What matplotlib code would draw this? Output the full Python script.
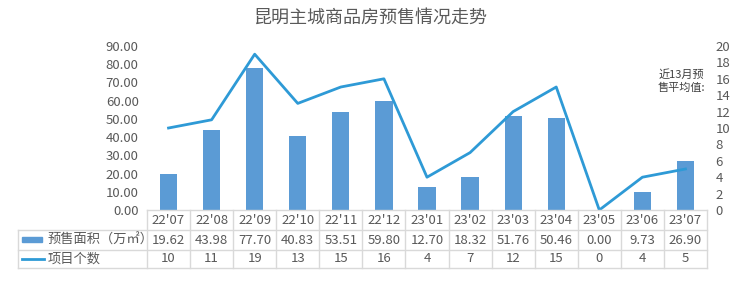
import matplotlib
matplotlib.use("Agg")
import matplotlib.pyplot as plt
from matplotlib.patches import Rectangle
from matplotlib.lines import Line2D

plt.rcParams["font.family"] = ["Noto Sans CJK SC", "DejaVu Sans"]

months = ["22'07", "22'08", "22'09", "22'10", "22'11", "22'12", "23'01",
          "23'02", "23'03", "23'04", "23'05", "23'06", "23'07"]
area = [19.62, 43.98, 77.70, 40.83, 53.51, 59.80, 12.70, 18.32, 51.76, 50.46, 0.00, 9.73, 26.90]
count = [10, 11, 19, 13, 15, 16, 4, 7, 12, 15, 0, 4, 5]

BAR = "#5B9BD5"
LINE = "#2E9AD6"
TXT = "#595959"
GRID = "#D9D9D9"

W, H = 740, 282
fig = plt.figure(figsize=(W / 100, H / 100), dpi=100)


def fx(px):
    return px / W


def fy(py):
    return 1 - py / H


x0, x1 = 147, 707
ytop, ybot = 46, 210
ax = fig.add_axes([fx(x0), fy(ybot), fx(x1 - x0), (ybot - ytop) / H])
ax2 = ax.twinx()

n = len(months)
xs = list(range(n))
ax.bar(xs, area, width=0.4, color=BAR, zorder=2)
ax2.plot(xs, count, color=LINE, lw=2, zorder=3)

ax.set_xlim(-0.5, n - 0.5)
ax.set_ylim(0, 90)
ax2.set_ylim(0, 20)
ax.set_yticks(range(0, 91, 10))
ax.set_yticklabels([f"{v:.2f}" for v in range(0, 91, 10)])
ax2.set_yticks(range(0, 21, 2))
ax.set_xticks([])
for a in (ax, ax2):
    a.tick_params(length=0, labelsize=9.5, colors=TXT)
    for s in a.spines.values():
        s.set_visible(False)
    a.patch.set_visible(False)
ax.tick_params(axis="y", pad=6)
ax2.tick_params(axis="y", pad=6)

fig.text(0.5, fy(18), "昆明主城商品房预售情况走势", ha="center", va="center",
         fontsize=13, color=TXT)
fig.text(fx(681), fy(81), "近13月预\n售平均值:", ha="center", va="center",
         fontsize=8, color="#404040", linespacing=1.25)

# data table below the chart
colw = (x1 - x0) / n
rows = [210, 230, 250, 268]
lx = 18


def hline(y, xa, xb):
    fig.add_artist(Line2D([fx(xa), fx(xb)], [fy(y), fy(y)], color=GRID, lw=1))


def vline(x, ya, yb):
    fig.add_artist(Line2D([fx(x), fx(x)], [fy(ya), fy(yb)], color=GRID, lw=1))


hline(rows[0], x0, x1)
for y in rows[1:]:
    hline(y, lx, x1)
vline(lx, rows[1], rows[3])
for i in range(n + 1):
    vline(x0 + i * colw, rows[0], rows[3])

for i in range(n):
    cx = x0 + (i + 0.5) * colw
    fig.text(fx(cx), fy(220), months[i], ha="center", va="center", fontsize=9.5, color=TXT)
    fig.text(fx(cx), fy(240), f"{area[i]:.2f}", ha="center", va="center", fontsize=9.5, color=TXT)
    fig.text(fx(cx), fy(259), str(count[i]), ha="center", va="center", fontsize=9.5, color=TXT)

fig.add_artist(Rectangle((fx(22), fy(242)), fx(20), 5 / H, color=BAR))
fig.add_artist(Line2D([fx(22), fx(44)], [fy(259), fy(259)], color=LINE, lw=2))
fig.text(fx(48), fy(240), "预售面积（万㎡）", ha="left", va="center", fontsize=9.5, color=TXT)
fig.text(fx(48), fy(259), "项目个数", ha="left", va="center", fontsize=9.5, color=TXT)

fig.savefig("out.png", dpi=100)
